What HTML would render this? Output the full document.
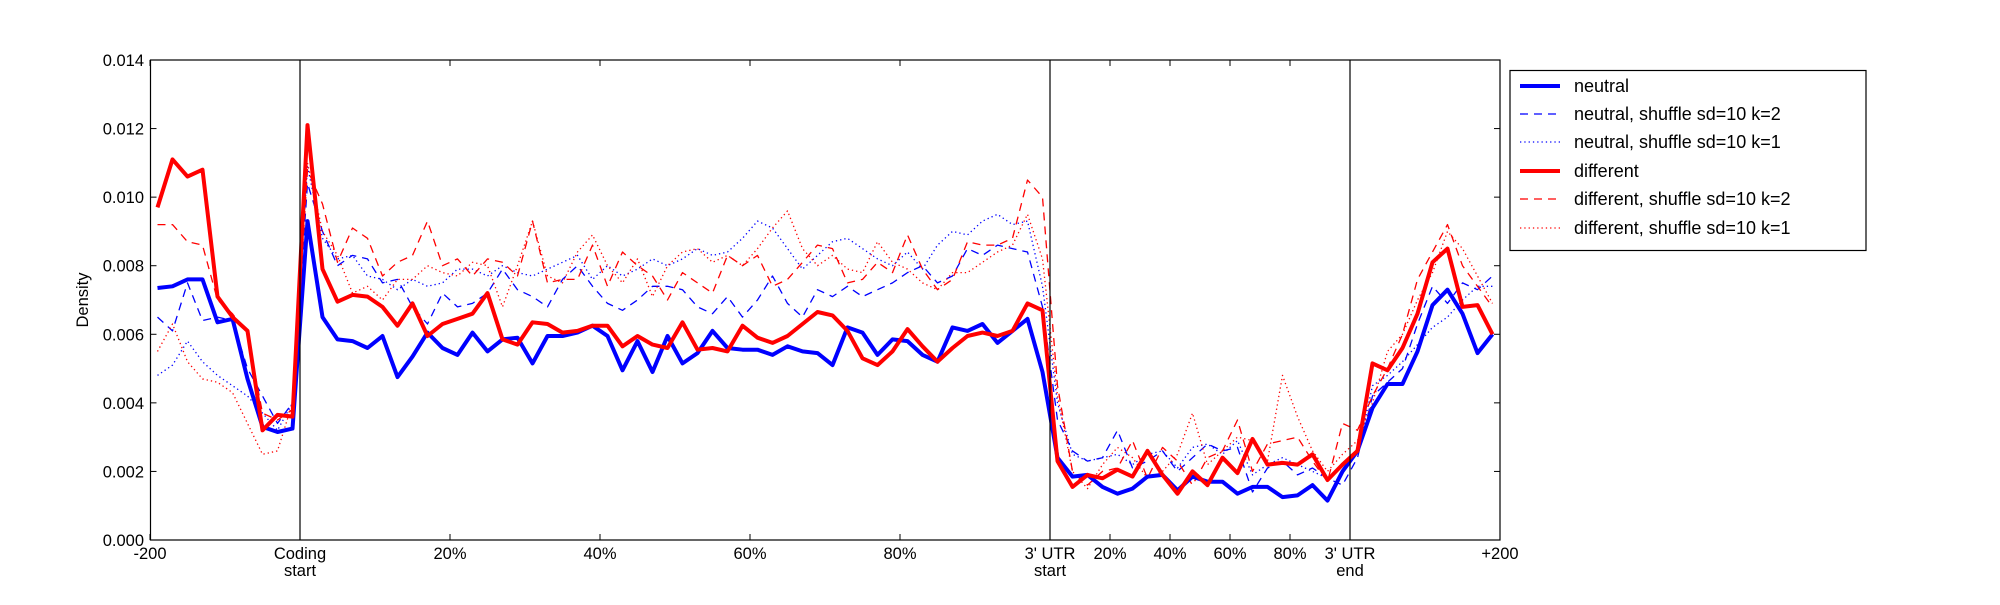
<!DOCTYPE html>
<html><head><meta charset="utf-8"><style>
html,body{margin:0;padding:0;background:#fff;}
svg text{font-family:"Liberation Sans","DejaVu Sans",sans-serif;font-size:16.5px;fill:#000;}
svg text.lg{font-size:18px;}
</style></head><body>
<svg id="s" width="2000" height="600" xmlns="http://www.w3.org/2000/svg">
<rect x="0" y="0" width="2000" height="600" fill="#fff"/>
<g id="series"></g>
<g stroke="#000" stroke-width="1.2">
<line x1="300" y1="60" x2="300" y2="540"/>
<line x1="1050" y1="60" x2="1050" y2="540"/>
<line x1="1350" y1="60" x2="1350" y2="540"/>
</g>
<rect x="150.5" y="60" width="1349.5" height="480" fill="none" stroke="#000" stroke-width="1.2"/>
<g id="ticks" stroke="#000" stroke-width="1"></g>
<g text-anchor="end">
<text x="144" y="546">0.000</text>
<text x="144" y="477.4">0.002</text>
<text x="144" y="408.9">0.004</text>
<text x="144" y="340.3">0.006</text>
<text x="144" y="271.7">0.008</text>
<text x="144" y="203.1">0.010</text>
<text x="144" y="134.6">0.012</text>
<text x="144" y="66">0.014</text>
</g>
<g text-anchor="middle">
<text x="150" y="559">-200</text>
<text x="300" y="559">Coding</text><text x="300" y="576">start</text>
<text x="450" y="559">20%</text>
<text x="600" y="559">40%</text>
<text x="750" y="559">60%</text>
<text x="900" y="559">80%</text>
<text x="1050" y="559">3' UTR</text><text x="1050" y="576">start</text>
<text x="1110" y="559">20%</text>
<text x="1170" y="559">40%</text>
<text x="1230" y="559">60%</text>
<text x="1290" y="559">80%</text>
<text x="1350" y="559">3' UTR</text><text x="1350" y="576">end</text>
<text x="1500" y="559">+200</text>
</g>
<text x="88" y="300" text-anchor="middle" transform="rotate(-90 88 300)">Density</text>
<rect x="1510" y="70.5" width="356" height="180" fill="#fff" stroke="#000" stroke-width="1.2"/>
<g stroke-width="4" fill="none">
<line x1="1520" y1="86" x2="1560" y2="86" stroke="#0000ff"/>
<line x1="1520" y1="114" x2="1560" y2="114" stroke="#0000ff" stroke-width="1.3" stroke-dasharray="8,6"/>
<line x1="1520" y1="142" x2="1560" y2="142" stroke="#0000ff" stroke-width="1.3" stroke-dasharray="1.3,3"/>
<line x1="1520" y1="171" x2="1560" y2="171" stroke="#ff0000"/>
<line x1="1520" y1="199" x2="1560" y2="199" stroke="#ff0000" stroke-width="1.3" stroke-dasharray="8,6"/>
<line x1="1520" y1="228" x2="1560" y2="228" stroke="#ff0000" stroke-width="1.3" stroke-dasharray="1.3,3"/>
</g>
<text class="lg" x="1574" y="92">neutral</text>
<text class="lg" x="1574" y="120">neutral, shuffle sd=10 k=2</text>
<text class="lg" x="1574" y="148">neutral, shuffle sd=10 k=1</text>
<text class="lg" x="1574" y="177">different</text>
<text class="lg" x="1574" y="205">different, shuffle sd=10 k=2</text>
<text class="lg" x="1574" y="234">different, shuffle sd=10 k=1</text>
</svg>
<script>
var NS="http://www.w3.org/2000/svg";
var bd=[6.5,6.1,7.5,6.4,6.5,6.4,5.0,4.2,3.4,4.0,10.4,9.0,8.0,8.3,8.2,7.5,7.6,6.8,6.3,7.2,6.8,6.9,7.2,7.9,7.3,7.1,6.8,7.6,8.0,7.4,6.9,6.7,7.0,7.4,7.4,7.3,6.8,6.6,7.1,6.5,7.0,7.7,6.9,6.5,7.3,7.1,7.4,7.1,7.3,7.5,7.8,8.0,7.5,7.7,8.5,8.3,8.6,8.5,8.4,6.8,3.5,2.6,2.3,2.4,3.2,2.1,2.3,2.6,2.0,2.4,2.8,2.6,2.7,1.4,2.1,2.3,1.9,2.1,1.8,1.6,2.4,4.2,4.6,5.0,6.3,7.4,6.9,7.5,7.3,7.7];
var bo=[4.8,5.1,5.8,5.2,4.8,4.5,4.2,3.7,3.2,4.0,10.9,8.8,8.2,8.3,7.7,7.6,7.3,7.6,7.4,7.5,7.9,7.9,7.7,8.0,7.8,7.7,7.9,8.1,8.3,7.6,8.0,7.7,7.9,8.2,8.0,8.2,8.5,8.3,8.4,8.8,9.3,9.1,8.5,7.9,8.3,8.7,8.8,8.5,8.2,8.0,8.4,7.9,8.6,9.0,8.9,9.3,9.5,9.2,9.3,7.4,4.0,2.5,2.3,2.4,2.5,2.2,2.5,2.6,2.1,2.7,2.8,2.5,2.9,1.9,2.2,2.4,2.2,2.0,1.8,2.2,2.5,4.5,4.8,5.2,5.7,6.2,6.5,7.0,7.4,7.4];
var rd=[9.2,9.2,8.7,8.6,7.0,6.6,6.0,3.7,3.5,3.8,10.8,9.8,8.1,9.1,8.8,7.7,8.1,8.3,9.3,8.0,8.2,7.7,8.2,8.1,7.7,9.3,7.5,7.6,7.6,8.6,7.4,8.4,8.0,7.7,7.0,7.8,7.5,7.2,8.3,8.0,8.3,7.4,7.6,8.1,8.6,8.5,7.5,7.6,8.1,7.8,8.9,7.9,7.3,7.6,8.7,8.6,8.6,8.8,10.5,10.0,4.5,2.0,1.6,2.0,2.1,2.9,1.8,2.7,2.3,1.6,2.4,2.6,3.5,2.0,2.8,2.9,3.0,2.3,1.7,3.4,3.2,4.2,5.0,6.0,7.6,8.4,9.2,8.0,7.4,6.8];
var ro=[5.5,6.3,5.2,4.7,4.6,4.3,3.4,2.5,2.6,4.0,11.0,9.0,8.3,7.2,7.4,7.0,7.6,7.6,8.0,7.8,7.7,8.1,8.0,6.8,8.0,9.3,7.7,7.5,8.4,8.9,8.0,7.5,8.2,7.1,8.0,8.4,8.5,8.1,8.3,8.0,8.5,9.1,9.6,8.5,8.0,8.3,7.9,7.8,8.7,8.1,7.9,7.5,7.3,7.8,7.8,8.1,8.4,8.6,9.5,8.2,4.2,2.0,1.5,2.2,2.7,2.4,1.8,2.0,2.5,3.7,2.2,2.6,3.0,2.9,2.3,4.8,3.6,2.6,2.0,2.5,2.9,4.0,5.5,6.0,7.0,7.8,9.0,8.5,7.7,6.9];
var b=[7.35,7.4,7.6,7.6,6.35,6.45,4.7,3.3,3.15,3.25,9.3,6.5,5.85,5.8,5.6,5.95,4.75,5.35,6.05,5.6,5.4,6.05,5.5,5.85,5.9,5.15,5.95,5.95,6.05,6.25,5.95,4.95,5.8,4.9,5.95,5.15,5.45,6.1,5.6,5.55,5.55,5.4,5.65,5.5,5.45,5.1,6.2,6.05,5.4,5.85,5.8,5.4,5.2,6.2,6.1,6.3,5.75,6.1,6.45,4.9,2.4,1.85,1.9,1.55,1.35,1.5,1.85,1.9,1.45,1.85,1.7,1.7,1.35,1.55,1.55,1.25,1.3,1.6,1.15,2.0,2.6,3.85,4.55,4.55,5.5,6.85,7.3,6.6,5.45,6.0];
var r=[9.7,11.1,10.6,10.8,7.1,6.5,6.1,3.2,3.65,3.6,12.1,7.9,6.95,7.15,7.1,6.8,6.25,6.9,5.95,6.3,6.45,6.6,7.2,5.85,5.7,6.35,6.3,6.05,6.1,6.25,6.25,5.65,5.95,5.7,5.6,6.35,5.55,5.6,5.5,6.25,5.9,5.75,5.95,6.3,6.65,6.55,6.1,5.3,5.1,5.5,6.15,5.65,5.2,5.6,5.95,6.05,5.95,6.1,6.9,6.7,2.3,1.55,1.9,1.8,2.05,1.85,2.6,1.9,1.35,2.0,1.6,2.4,1.95,2.95,2.2,2.25,2.2,2.5,1.75,2.2,2.6,5.15,4.95,5.6,6.6,8.1,8.5,6.8,6.85,6.0];
var g=document.getElementById("series");
function add(d,c,w,da){var p=document.createElementNS(NS,"polyline");var pts=d.map(function(v,i){return (157.5+15*i)+","+(540-v*480/14).toFixed(1)}).join(" ");p.setAttribute("points",pts);p.setAttribute("fill","none");p.setAttribute("stroke",c);p.setAttribute("stroke-width",w);p.setAttribute("stroke-linejoin","round");if(da)p.setAttribute("stroke-dasharray",da);g.appendChild(p);}
add(bd,"#0000ff",1.3,"8,6");add(bo,"#0000ff",1.3,"1.3,3");
add(rd,"#ff0000",1.3,"8,6");add(ro,"#ff0000",1.3,"1.3,3");
add(b,"#0000ff",4);add(r,"#ff0000",4);
var t=document.getElementById("ticks");
function ln(x1,y1,x2,y2){var l=document.createElementNS(NS,"line");l.setAttribute("x1",x1);l.setAttribute("y1",y1);l.setAttribute("x2",x2);l.setAttribute("y2",y2);t.appendChild(l);}
[150,300,450,600,750,900,1050,1110,1170,1230,1290,1350,1500].forEach(function(x){ln(x,540,x,534);ln(x,60,x,66);});
for(var k=0;k<=7;k++){var y=540-k*480/7;ln(150.5,y,156.5,y);ln(1500,y,1494,y);}
</script>
</body></html>
